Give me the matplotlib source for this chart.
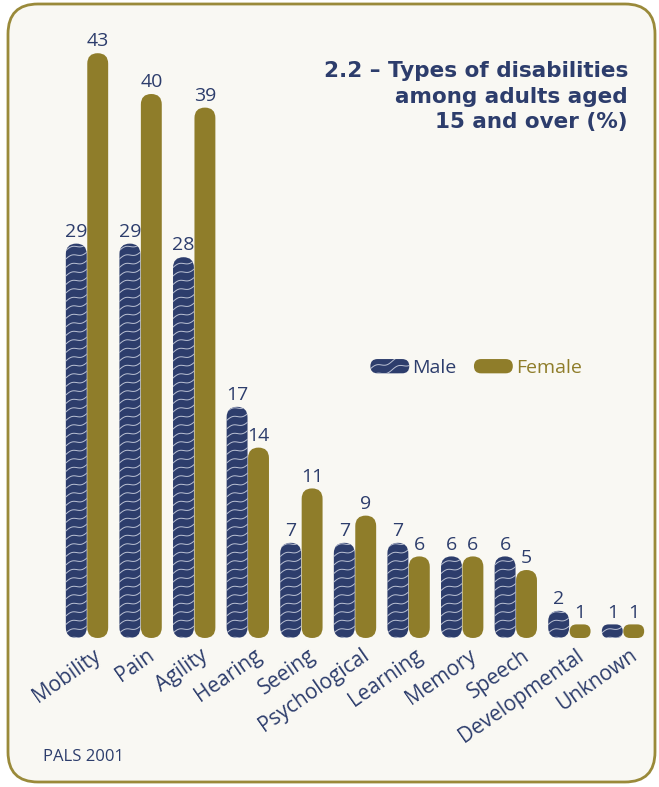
import numpy as np
import matplotlib
matplotlib.use("Agg")
import matplotlib.pyplot as plt
from matplotlib.patches import FancyBboxPatch
from matplotlib.lines import Line2D
from matplotlib.legend_handler import HandlerBase
from matplotlib.transforms import ScaledTranslation

categories = ["Mobility", "Pain", "Agility", "Hearing", "Seeing", "Psychological",
              "Learning", "Memory", "Speech", "Developmental", "Unknown"]
male = [29, 29, 28, 17, 7, 7, 7, 6, 6, 2, 1]
female = [43, 40, 39, 14, 11, 9, 6, 6, 5, 1, 1]

NAVY = "#2d3d6c"
GOLD = "#8f7d2a"
PANEL = "#f9f8f3"
EDGE = "#9a8a3a"

plt.rcParams["font.family"] = ["Open Sans", "DejaVu Sans"]

W, H = 659, 787
fig = plt.figure(figsize=(W / 100, H / 100), dpi=100)
fig.patch.set_facecolor("white")

# rounded background panel
panel = FancyBboxPatch((8 / W, 5 / H), 647 / W, 778 / H,
                       boxstyle="round,pad=0,rounding_size=%f" % (30 / W),
                       mutation_aspect=W / H, transform=fig.transFigure,
                       facecolor=PANEL, edgecolor=EDGE, linewidth=2, zorder=0)
fig.add_artist(panel)

ax = fig.add_axes([54.84 / W, 149 / H, 594.96 / W, 625.6 / H])
ax.set_facecolor("none")
ax.set_xlim(-0.6, 10.5)
ax.set_ylim(0, 46)
for s in ax.spines.values():
    s.set_visible(False)
ax.set_yticks([])

x = np.arange(len(categories))
bw = 0.39
mbars = ax.bar(x - 0.2, male, bw, color=NAVY)
fbars = ax.bar(x + 0.2, female, bw, color=GOLD)

# pixel scale of data units
p0 = ax.transData.transform((0, 0))
p1 = ax.transData.transform((1, 1))
px_x = p1[0] - p0[0]
px_y = p1[1] - p0[1]
aspect = px_x / px_y


def waves(x0, y0, w, h, sx, sy, clip, trans=None):
    # wavy white lines, sizes given in pixels via sx, sy
    wpx, hpx = w * sx, h * sy
    xs = np.linspace(0, wpx, 40)
    out = []
    for off in np.arange(-wpx * 0.5 - 10, hpx + 10, 8.5):
        ys = off + 0.35 * xs + 1.8 * np.sin(2 * np.pi * xs / 22.0)
        ln = Line2D(x0 + xs / sx, y0 + ys / sy, color="#dfe3ee", lw=0.7, alpha=0.8)
        if trans is not None:
            ln.set_transform(trans)
        out.append((ln, clip))
    return out


def pill(rect, color):
    bx, by = rect.get_x(), rect.get_y()
    w, h = rect.get_width(), rect.get_height()
    r = min(w / 2, h / aspect / 2)
    p = FancyBboxPatch((bx, by), w, h,
                       boxstyle="round,pad=0,rounding_size=%f" % r,
                       mutation_aspect=aspect, facecolor=color,
                       edgecolor="none", zorder=2)
    ax.add_patch(p)
    rect.set_visible(False)
    return p


for rect in mbars:
    p = pill(rect, NAVY)
    for ln, clip in waves(rect.get_x(), rect.get_y(), rect.get_width(),
                          rect.get_height(), px_x, px_y, p):
        ax.add_line(ln)
        ln.set_zorder(3)
        ln.set_clip_path(p)
for rect in fbars:
    pill(rect, GOLD)

for bars, vals in ((mbars, male), (fbars, female)):
    for rect, v in zip(bars, vals):
        ax.annotate(str(v), (rect.get_x() + rect.get_width() / 2, v),
                    xytext=(0, 2), textcoords="offset points",
                    ha="center", va="bottom", fontsize=14, color=NAVY)

ax.set_xticks(x)
ax.set_xticklabels(categories, rotation=35, ha="right", va="top",
                   rotation_mode="anchor", fontsize=15, color=NAVY)
ax.tick_params(axis="x", length=0, pad=5)
for lab in ax.get_xticklabels():
    lab.set_transform(lab.get_transform() + ScaledTranslation(6 / 100, 0, fig.dpi_scale_trans))


class PillHandler(HandlerBase):
    def __init__(self, color, wavy):
        super().__init__()
        self.color = color
        self.wavy = wavy

    def create_artists(self, legend, orig_handle, xdescent, ydescent,
                       width, height, fontsize, trans):
        h = height * 1.05
        y0 = -ydescent + (height - h) / 2
        p = FancyBboxPatch((-xdescent, y0), width, h,
                           boxstyle="round,pad=0,rounding_size=%f" % (h / 2),
                           facecolor=self.color, edgecolor="none", transform=trans)
        arts = [p]
        if self.wavy:
            sc = 100 / 72
            for ln, clip in waves(-xdescent, y0, width, h, sc, sc, p, trans):
                ln.set_clip_path(p)
                arts.append(ln)
        return arts


hm = Line2D([], [])
hf = Line2D([], [])
ax.legend([hm, hf], ["Male", "Female"], ncol=2, frameon=False,
          handler_map={hm: PillHandler(NAVY, True), hf: PillHandler(GOLD, False)},
          loc="center", bbox_to_anchor=(476 / W, 1 - 368 / H),
          bbox_transform=fig.transFigure, fontsize=14,
          handlelength=2.0, handleheight=0.7, handletextpad=0.15,
          columnspacing=0.9, labelcolor=[NAVY, GOLD])

fig.text(628 / W, 1 - 61 / H,
         "2.2 \u2013 Types of disabilities\namong adults aged\n15 and over (%)",
         ha="right", va="top", fontsize=15.5, fontweight="bold",
         family=["DejaVu Sans"], color=NAVY, linespacing=1.35)

fig.text(43 / W, 1 - 757 / H, "PALS 2001", ha="left", va="center",
         fontsize=12, color=NAVY)

fig.savefig("out.png", dpi=100, facecolor=fig.get_facecolor())
